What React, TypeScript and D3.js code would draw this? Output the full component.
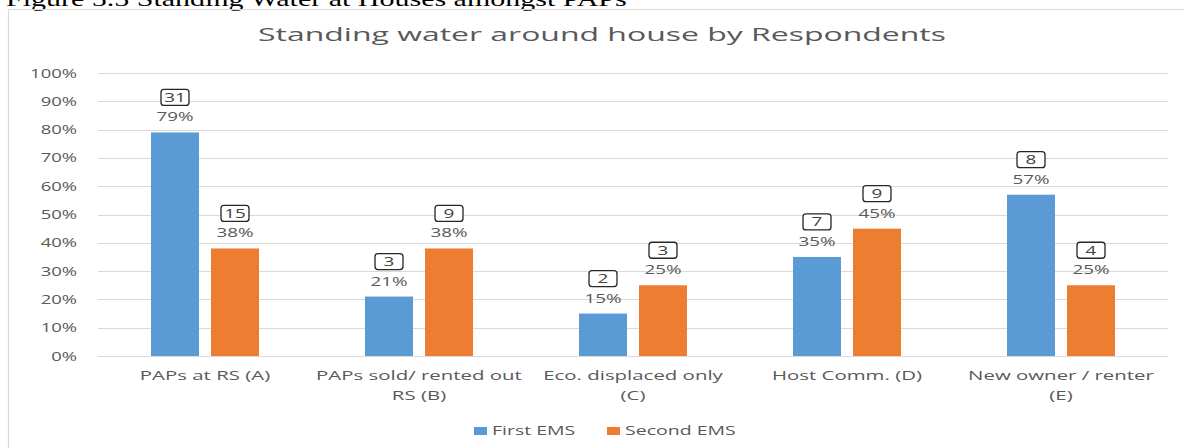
import React from "react";
import * as d3 from "d3";

const categories = [
  ["PAPs at RS (A)"],
  ["PAPs sold/ rented out", "RS (B)"],
  ["Eco. displaced only", "(C)"],
  ["Host Comm. (D)"],
  ["New owner / renter", "(E)"],
];
const seriesNames = ["First EMS", "Second EMS"];
const firstPct = [0.79, 0.21, 0.15, 0.35, 0.57];
const secondPct = [0.38, 0.38, 0.25, 0.45, 0.25];
const firstCount = [31, 3, 2, 7, 8];
const secondCount = [15, 9, 3, 9, 4];
const yTicks = [0, 0.1, 0.2, 0.3, 0.4, 0.5, 0.6, 0.7, 0.8, 0.9, 1.0];
const colors = ["#5B9BD5", "#ED7D31"];
const caption = "Figure 5.5 Standing Water at Houses amongst PAPs";
const title = "Standing water around house by Respondents";

const W = 1184;
const H = 448;
const FONT = "'Open Sans', sans-serif";
const TXT = "#595959";

function SText({ x, y, sx, size, anchor = "middle", fill = TXT, family = FONT, children, baseline }: any) {
  return (
    <text
      transform={`translate(${x},${y}) scale(${sx},1)`}
      textAnchor={anchor}
      fontSize={size}
      fontFamily={family}
      fill={fill}
      dominantBaseline={baseline}
    >
      {children}
    </text>
  );
}

export default function App() {
  const keys = categories.map((c) => c.join(" "));
  const x0 = d3.scaleBand<string>().domain(keys).range([98, 1168]).paddingInner(106 / 214).paddingOuter(53 / 214);
  const x1 = d3.scaleBand<string>().domain(seriesNames).range([0, x0.bandwidth()]).paddingInner(0.2);
  const y = d3.scaleLinear().domain([0, 1]).range([356, 73]);
  const fmt = d3.format(".0%");
  const values = [firstPct, secondPct];
  const counts = [firstCount, secondCount];

  return (
    <svg width={W} height={H} style={{ position: "absolute", left: 0, top: 0, background: "#fff" }}>
      <rect x={0} y={0} width={W} height={H} fill="#fff" />
      <SText x={6} y={6} sx={1.5} size={20} anchor="start" fill="#000" family="'Liberation Serif', 'Times New Roman', serif">
        {caption}
      </SText>
      {/* chart border */}
      <line x1={8.5} x2={8.5} y1={9.5} y2={H} stroke="#d9d9d9" strokeWidth={1.2} />
      <line x1={8.5} x2={W} y1={9.5} y2={9.5} stroke="#d9d9d9" strokeWidth={1.2} />

      <SText x={602} y={41} sx={1.775} size={18}>
        {title}
      </SText>

      {yTicks.map((t) => (
        <g key={t}>
          <line x1={98} x2={1168} y1={Math.round(y(t)) + 0.5} y2={Math.round(y(t)) + 0.5} stroke="#d9d9d9" strokeWidth={1} />
          <SText x={77} y={y(t) + 4.5} sx={1.42} size={13} anchor="end">
            {fmt(t)}
          </SText>
        </g>
      ))}

      {keys.map((k, i) => (
        <g key={k}>
          {seriesNames.map((s, j) => {
            const v = values[j][i];
            const bx = (x0(k) as number) + (x1(s) as number);
            const bw = x1.bandwidth();
            const cx = bx + bw / 2;
            const top = y(v);
            return (
              <g key={s}>
                <rect x={bx} y={top} width={bw} height={y(0) - top} fill={colors[j]} />
                <SText x={cx} y={top - 11} sx={1.45} size={13}>
                  {fmt(v)}
                </SText>
                <rect x={cx - 14} y={top - 43} width={28} height={16} rx={3} fill="#fff" stroke="#262626" strokeWidth={1.3} />
                <SText x={cx} y={top - 30.5} sx={1.45} size={13} fill="#404040">
                  {counts[j][i]}
                </SText>
              </g>
            );
          })}
          {categories[i].map((line, li) => (
            <SText key={li} x={(x0(k) as number) + x0.bandwidth() / 2} y={380 + li * 20} sx={1.57} size={13}>
              {line}
            </SText>
          ))}
        </g>
      ))}

      {/* legend */}
      {seriesNames.map((s, j) => {
        const lx = j === 0 ? 474 : 607;
        return (
          <g key={s}>
            <rect x={lx} y={427} width={13} height={8} fill={colors[j]} />
            <SText x={lx + 18} y={435} sx={1.5} size={13} anchor="start">
              {s}
            </SText>
          </g>
        );
      })}
    </svg>
  );
}
